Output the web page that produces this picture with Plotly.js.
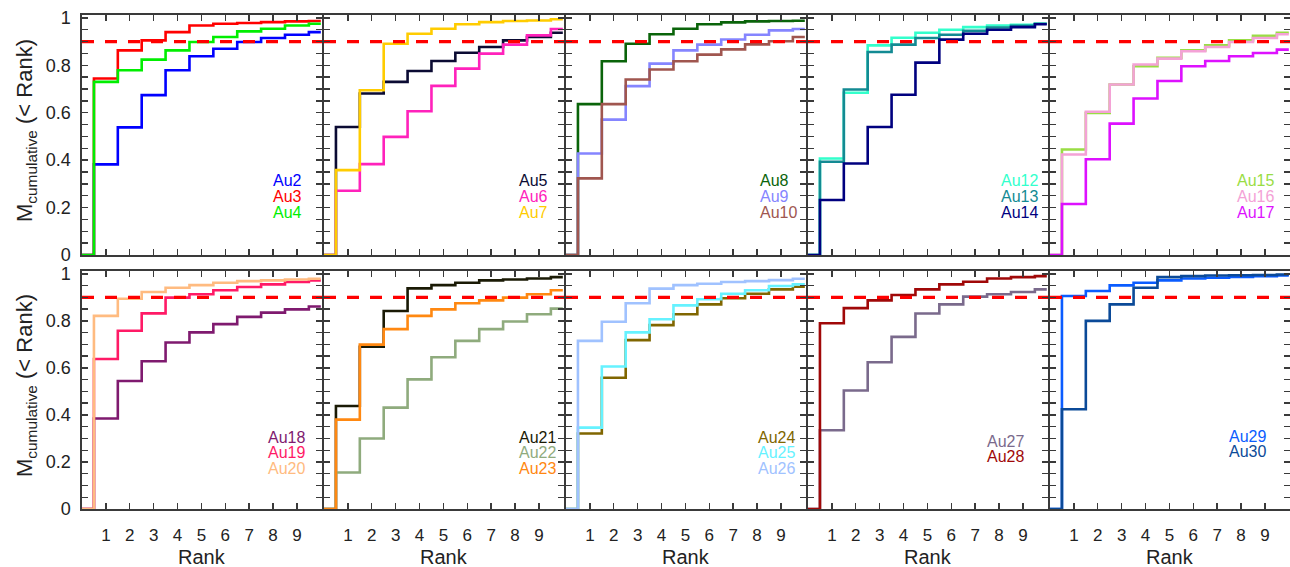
<!DOCTYPE html>
<html>
<head>
<meta charset="utf-8">
<script src="https://cdn.plot.ly/plotly-3.0.1.min.js"></script>
<style>html,body{margin:0;padding:0;background:#fff;}#chart{width:1290px;height:567px;}</style>
</head>
<body>
<div id="chart"></div>
<script>
// ---- data (ranks 1..10; rank 0 starts at 0) ----
const ranks = [0, 1, 2, 3, 4, 5, 6, 7, 8, 9, 10];
const threshold = 0.9;
const yTickVals = [0, 0.2, 0.4, 0.6, 0.8, 1];
const xTickVals = [1, 2, 3, 4, 5, 6, 7, 8, 9];

const au2  = [0.382, 0.538, 0.674, 0.779, 0.838, 0.870, 0.898, 0.915, 0.929, 0.940];
const au3  = [0.744, 0.863, 0.905, 0.940, 0.968, 0.975, 0.978, 0.982, 0.985, 0.987];
const au4  = [0.730, 0.779, 0.824, 0.863, 0.898, 0.919, 0.943, 0.954, 0.968, 0.975];
const au5  = [0.540, 0.681, 0.730, 0.776, 0.818, 0.853, 0.877, 0.905, 0.919, 0.937];
const au6  = [0.271, 0.383, 0.498, 0.606, 0.713, 0.786, 0.849, 0.887, 0.926, 0.953];
const au7  = [0.358, 0.695, 0.891, 0.933, 0.954, 0.973, 0.982, 0.987, 0.989, 0.994];
const au8  = [0.636, 0.817, 0.891, 0.931, 0.954, 0.973, 0.981, 0.985, 0.987, 0.988];
const au9  = [0.428, 0.571, 0.712, 0.807, 0.863, 0.887, 0.909, 0.929, 0.947, 0.953];
const au10 = [0.323, 0.636, 0.740, 0.782, 0.817, 0.845, 0.867, 0.888, 0.901, 0.919];
const au12 = [0.407, 0.684, 0.884, 0.916, 0.937, 0.950, 0.961, 0.968, 0.971, 0.975];
const au13 = [0.393, 0.698, 0.856, 0.887, 0.915, 0.929, 0.945, 0.959, 0.966, 0.975];
const au14 = [0.232, 0.386, 0.540, 0.676, 0.811, 0.908, 0.933, 0.950, 0.961, 0.973];
const au15 = [0.445, 0.599, 0.719, 0.796, 0.832, 0.863, 0.884, 0.905, 0.924, 0.937];
const au16 = [0.424, 0.604, 0.719, 0.803, 0.828, 0.859, 0.877, 0.898, 0.915, 0.931];
const au17 = [0.215, 0.404, 0.554, 0.660, 0.734, 0.796, 0.818, 0.838, 0.852, 0.866];
const au18 = [0.385, 0.544, 0.628, 0.708, 0.751, 0.786, 0.817, 0.835, 0.849, 0.861];
const au19 = [0.638, 0.758, 0.832, 0.899, 0.913, 0.930, 0.944, 0.955, 0.965, 0.972];
const au20 = [0.821, 0.894, 0.923, 0.941, 0.952, 0.962, 0.969, 0.972, 0.976, 0.979];
const au21 = [0.438, 0.690, 0.842, 0.938, 0.952, 0.962, 0.972, 0.976, 0.980, 0.986];
const au22 = [0.155, 0.300, 0.431, 0.551, 0.645, 0.715, 0.765, 0.797, 0.828, 0.852];
const au23 = [0.380, 0.699, 0.765, 0.821, 0.849, 0.875, 0.887, 0.899, 0.913, 0.930];
const au24 = [0.321, 0.558, 0.718, 0.782, 0.828, 0.870, 0.896, 0.915, 0.934, 0.945];
const au25 = [0.346, 0.606, 0.751, 0.807, 0.866, 0.892, 0.915, 0.930, 0.948, 0.955];
const au26 = [0.715, 0.796, 0.875, 0.937, 0.952, 0.958, 0.965, 0.969, 0.973, 0.979];
const au27 = [0.335, 0.504, 0.624, 0.732, 0.831, 0.870, 0.903, 0.913, 0.923, 0.934];
const au28 = [0.790, 0.854, 0.887, 0.910, 0.934, 0.955, 0.966, 0.980, 0.986, 0.990];
const au29 = [0.906, 0.927, 0.951, 0.962, 0.972, 0.980, 0.983, 0.987, 0.990, 0.993];
const au30 = [0.424, 0.800, 0.870, 0.941, 0.986, 0.990, 0.993, 0.994, 0.995, 0.997];

const panelNames = [
  ['Au2', 'Au3', 'Au4'], ['Au5', 'Au6', 'Au7'], ['Au8', 'Au9', 'Au10'],
  ['Au12', 'Au13', 'Au14'], ['Au15', 'Au16', 'Au17'],
  ['Au18', 'Au19', 'Au20'], ['Au21', 'Au22', 'Au23'], ['Au24', 'Au25', 'Au26'],
  ['Au27', 'Au28'], ['Au29', 'Au30']
];
const panelSeries = [
  [au2, au3, au4], [au5, au6, au7], [au8, au9, au10], [au12, au13, au14], [au15, au16, au17],
  [au18, au19, au20], [au21, au22, au23], [au24, au25, au26], [au27, au28], [au29, au30]
];

// ---- styles ----
const colors = {
  Au2: '#0000ff', Au3: '#ff0000', Au4: '#00ee00',
  Au5: '#0b0b33', Au6: '#ff22bb', Au7: '#ffcc00',
  Au8: '#0a640a', Au9: '#8585ff', Au10: '#a0564f',
  Au12: '#33ffcc', Au13: '#138a93', Au14: '#00007f',
  Au15: '#99dd44', Au16: '#f4a2d6', Au17: '#dd11ff',
  Au18: '#7f1a6f', Au19: '#ff1a66', Au20: '#ffbb80',
  Au21: '#1a1a05', Au22: '#8fab7d', Au23: '#ff8811',
  Au24: '#806600', Au25: '#66f2ff', Au26: '#a0c2ff',
  Au27: '#7a6a8c', Au28: '#a00808',
  Au29: '#0a5cff', Au30: '#0b4a98'
};
const FONT = '"Liberation Sans", Arial, Helvetica, sans-serif';
const W = 1290, H = 567;
const colLeft = [82, 324, 566, 808, 1050];
const colW = 240;
const rowPx = [[15, 255], [271, 509]];
const labelX = [7.9, 8.1, 8.05, 8.0, 7.75, 7.7, 8.1, 7.96, 7.4, 7.4];
const labelYTop = [0.315, 0.248, 0.181];
const labelYBot = [0.306, 0.241, 0.174];

const traces = [];
const layout = {
  width: W, height: H,
  margin: {l: 0, r: 0, t: 0, b: 0},
  paper_bgcolor: '#fff', plot_bgcolor: '#fff',
  showlegend: false,
  font: {family: FONT, size: 17, color: '#222'},
  annotations: [],
  shapes: []
};

for (let p = 0; p < 10; p++) {
  const row = p < 5 ? 0 : 1;
  const col = p % 5;
  const idx = p + 1;
  const xa = idx === 1 ? 'x' : 'x' + idx;
  const ya = idx === 1 ? 'y' : 'y' + idx;
  const xKey = idx === 1 ? 'xaxis' : 'xaxis' + idx;
  const yKey = idx === 1 ? 'yaxis' : 'yaxis' + idx;

  layout[xKey] = {
    domain: [colLeft[col] / W, (colLeft[col] + colW) / W],
    anchor: ya, range: [0, 10.05], fixedrange: true,
    showgrid: false, zeroline: false,
    showline: true, linecolor: '#3a3a3a', linewidth: 1.6, mirror: 'allticks',
    ticks: 'inside', ticklen: 6, tickwidth: 1.4, tickcolor: '#3a3a3a',
    tickvals: xTickVals,
    showticklabels: row === 1,
    ticklabelstandoff: 10,
    tickfont: {family: FONT, size: 17, color: '#222'}
  };
  layout[yKey] = {
    domain: [1 - rowPx[row][1] / H, 1 - rowPx[row][0] / H],
    anchor: xa, range: [0, 1.012], fixedrange: true,
    showgrid: false, zeroline: false,
    showline: true, linecolor: '#3a3a3a', linewidth: 1.6, mirror: 'allticks',
    ticks: 'inside', ticklen: 6, tickwidth: 1.4, tickcolor: '#3a3a3a',
    tickvals: yTickVals,
    minor: {dtick: 0.05, ticks: 'inside', ticklen: 6, tickwidth: 1.4, tickcolor: '#3a3a3a', showgrid: false},
    showticklabels: col === 0,
    ticklabelstandoff: 6,
    tickfont: {family: FONT, size: 18, color: '#222'}
  };

  const names = panelNames[p];
  const series = panelSeries[p];
  names.forEach((nm, i) => {
    traces.push({
      type: 'scatter', mode: 'lines',
      x: ranks, y: [0].concat(series[i]),
      xaxis: xa, yaxis: ya,
      line: {shape: 'hvh', color: colors[nm], width: 2.6},
      hoverinfo: 'skip'
    });
    const ly = (row === 0 ? labelYTop : labelYBot)[i] + (p === 8 ? -0.017 : 0) + (p === 9 ? 0.004 : 0);
    layout.annotations.push({
      xref: xa, yref: ya, x: labelX[p], y: ly,
      xanchor: 'left', yanchor: 'middle', showarrow: false,
      text: nm, font: {family: FONT, size: 16, color: colors[nm]}
    });
  });
  traces.push({
    type: 'scatter', mode: 'lines',
    x: [0, 10.05], y: [threshold, threshold],
    xaxis: xa, yaxis: ya,
    line: {color: '#ff0000', width: 3.2, dash: '12px,11px'},
    hoverinfo: 'skip'
  });

  if (row === 1) {
    layout.annotations.push({
      xref: 'paper', yref: 'paper',
      x: (colLeft[col] + colW / 2) / W, y: 1 - 557 / H,
      xanchor: 'center', yanchor: 'middle', showarrow: false,
      text: 'Rank', font: {family: FONT, size: 20, color: '#222'}
    });
  }
  if (col === 0) {
    layout.annotations.push({
      xref: 'paper', yref: 'paper',
      x: 26 / W, y: 1 - ((rowPx[row][0] + rowPx[row][1]) / 2 - 4) / H,
      xanchor: 'center', yanchor: 'middle', showarrow: false, textangle: -90,
      text: 'M<sub>cumulative</sub> (&lt; Rank)', font: {family: FONT, size: 22, color: '#222'}
    });
  }
}

Plotly.newPlot('chart', traces, layout, {displayModeBar: false, staticPlot: true});
</script>
</body>
</html>
